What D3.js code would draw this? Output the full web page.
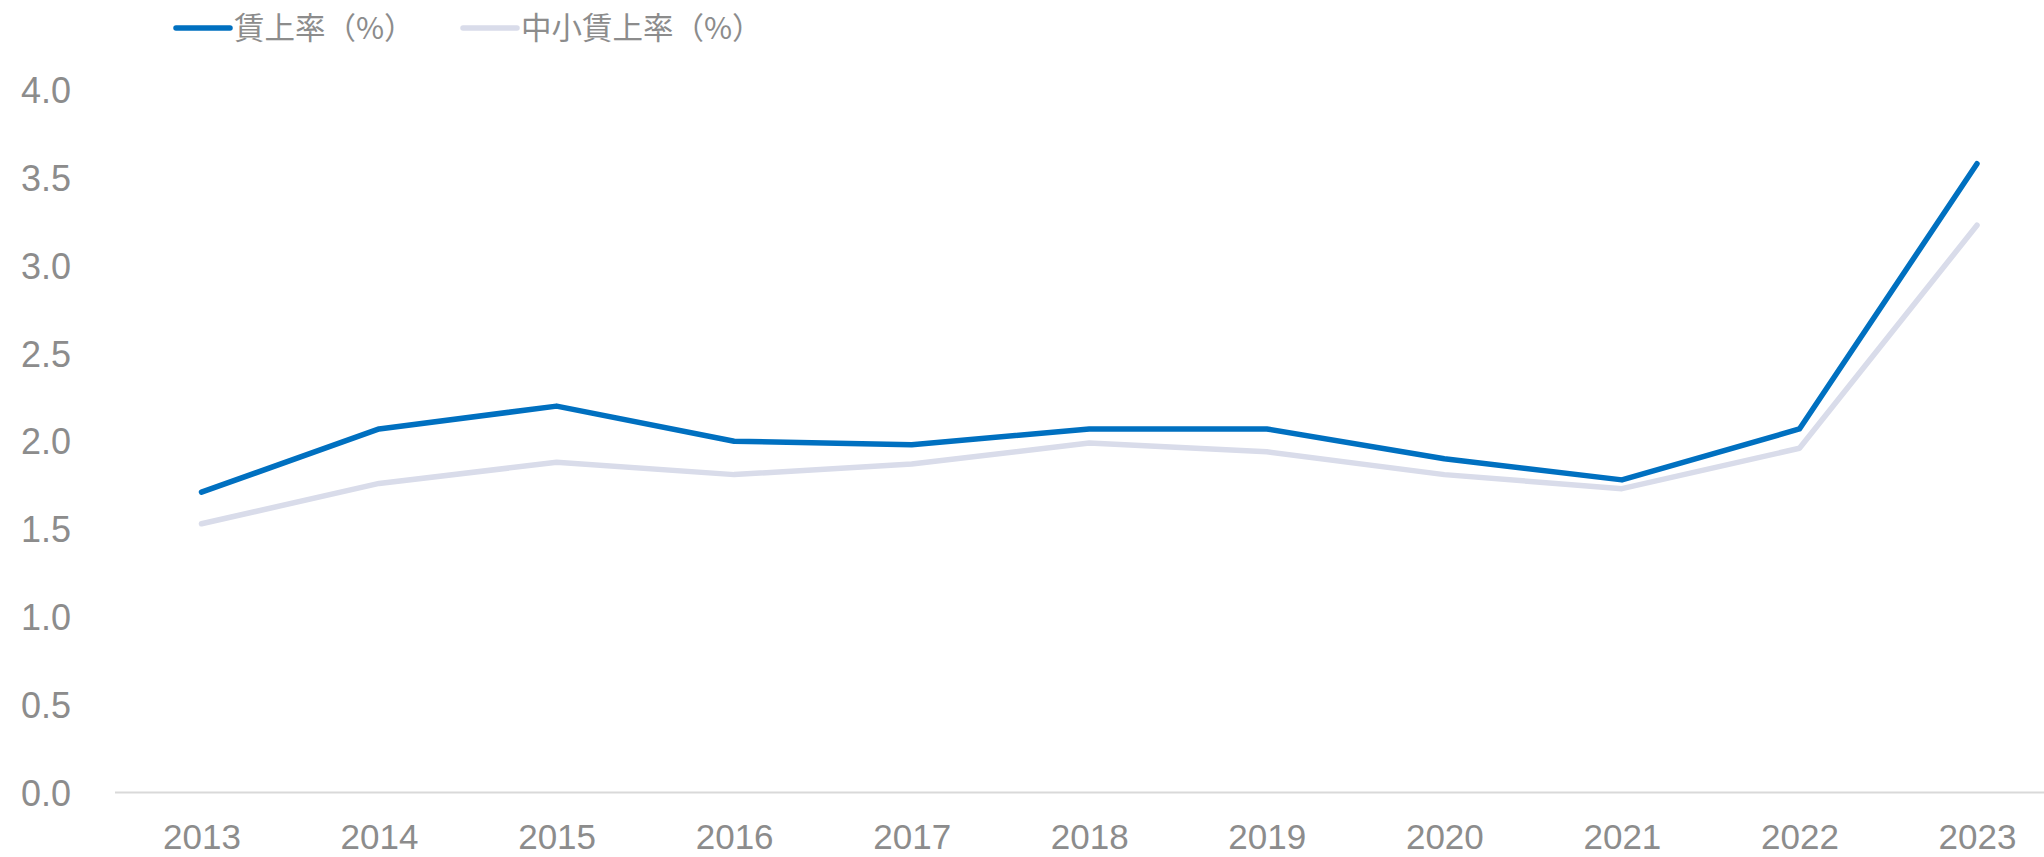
<!DOCTYPE html>
<html>
<head>
<meta charset="utf-8">
<script src="https://cdn.jsdelivr.net/npm/d3@7"></script>
<style>
  html, body { margin: 0; padding: 0; background: #fff; }
  svg { display: block; }
</style>
</head>
<body>
<svg id="chart" width="2044" height="857"></svg>
<script>
// Wage increase rates by year (%)
const years = ["2013","2014","2015","2016","2017","2018","2019","2020","2021","2022","2023"];
const wageRate = [1.71, 2.07, 2.20, 2.00, 1.98, 2.07, 2.07, 1.90, 1.78, 2.07, 3.58];
const smeWageRate = [1.53, 1.76, 1.88, 1.81, 1.87, 1.99, 1.94, 1.81, 1.73, 1.96, 3.23];
const yTicks = [0, 0.5, 1.0, 1.5, 2.0, 2.5, 3.0, 3.5, 4.0];
const seriesNames = ["賃上率（%）", "中小賃上率（%）"];

const series = [
  { name: seriesNames[0], values: wageRate, color: "#0070C0" },
  { name: seriesNames[1], values: smeWageRate, color: "#D9DCEA" }
];

const svg = d3.select("#chart");
const textColor = "#8c8c8c";
const numFont = "'Liberation Sans', Arial, sans-serif";
const cjkFont = "'Noto Sans CJK JP', 'Noto Sans', sans-serif";

const x = d3.scalePoint().domain(years).range([201.5, 1977]);
const y = d3.scaleLinear().domain([0, 4]).range([792.5, 90]);

// Baseline (category axis line)
svg.append("line")
  .attr("x1", 115).attr("x2", 2044)
  .attr("y1", y(0)).attr("y2", y(0))
  .attr("stroke", "#d9d9d9").attr("stroke-width", 2);

// Value axis labels
const yAxis = d3.axisLeft(y).tickValues(yTicks).tickFormat(d3.format(".1f")).tickSize(0).tickPadding(0);
const gy = svg.append("g").attr("transform", "translate(71,0)").call(yAxis);
gy.select(".domain").remove();
gy.selectAll("text")
  .attr("font-family", numFont).attr("font-size", 36).attr("fill", textColor)
  .attr("dy", "0.35em");

// Category axis labels (baseline kept just above the bottom edge)
const xAxis = d3.axisBottom(x).tickSize(0).tickPadding(0);
const gx = svg.append("g").attr("transform", "translate(0,849)").call(xAxis);
gx.select(".domain").remove();
gx.selectAll("text")
  .attr("font-family", numFont).attr("font-size", 35).attr("fill", textColor)
  .attr("y", 0).attr("dy", 0);

// Series lines
const line = d3.line()
  .x((d, i) => x(years[i]))
  .y(d => y(d));

series.slice().reverse().forEach(s => {
  svg.append("path")
    .datum(s.values)
    .attr("d", line)
    .attr("fill", "none")
    .attr("stroke", s.color)
    .attr("stroke-width", 5.5)
    .attr("stroke-linejoin", "round")
    .attr("stroke-linecap", "round");
});

// Legend
const legendX = [176, 463];
series.forEach((s, i) => {
  const g = svg.append("g").attr("transform", `translate(${legendX[i]},28)`);
  g.append("line")
    .attr("x1", 0).attr("x2", 54).attr("y1", 0).attr("y2", 0)
    .attr("stroke", s.color).attr("stroke-width", 5.5).attr("stroke-linecap", "round");
  g.append("text")
    .attr("x", 58).attr("y", 0).attr("dy", "0.36em")
    .attr("font-family", cjkFont).attr("font-size", 30.5).attr("fill", textColor)
    .text(s.name);
});
</script>
</body>
</html>
